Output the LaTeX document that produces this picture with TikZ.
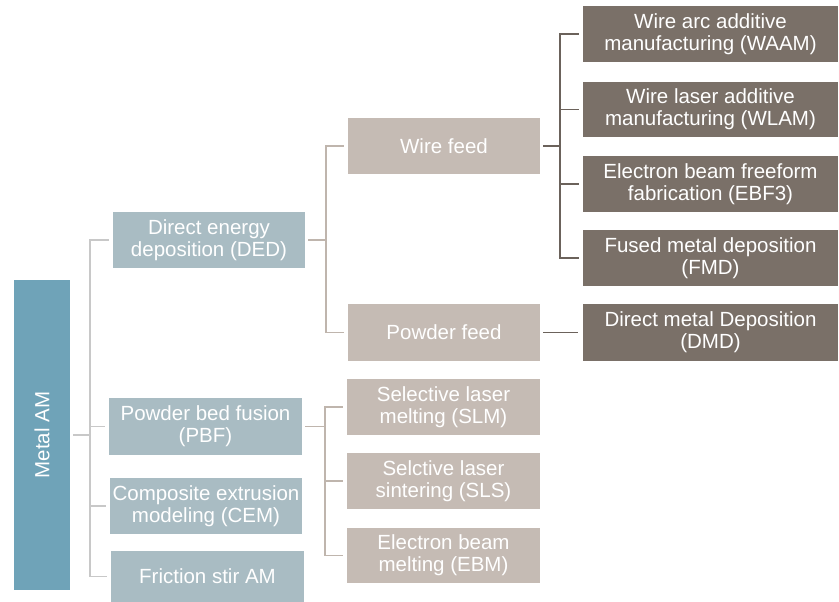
\documentclass[tikz,border=0pt]{standalone}
\usepackage{fontspec}
\setmainfont{Liberation Sans}
\definecolor{cmetal}{HTML}{6FA3B8}
\definecolor{cone}{HTML}{A9BCC3}
\definecolor{ctwo}{HTML}{C5BBB4}
\definecolor{cthree}{HTML}{7A7068}
\definecolor{lone}{HTML}{C8C8C8}
\definecolor{ltwo}{HTML}{BFB5AD}
\definecolor{lthree}{HTML}{6B625B}
\begin{document}
\begin{tikzpicture}[x=1pt,y=-1pt,
  box/.style={rectangle, inner sep=0pt, text=white, align=center,
    font=\fontsize{20.5}{22}\selectfont},
  lvz/.style={box, fill=cmetal},
  lvone/.style={box, fill=cone},
  lvtwo/.style={box, fill=ctwo},
  lvthree/.style={box, fill=cthree},
  cone/.style={draw=lone, line width=1.8pt},
  ctwo/.style={draw=ltwo, line width=1.8pt},
  cthree/.style={draw=lthree, line width=1.8pt}]
\useasboundingbox (0,0) rectangle (839,602);
% level 0
\node[lvz, minimum width=56pt, minimum height=310pt] (metal) at (42,435) {\rotatebox{90}{Metal AM}};
% level 1
\node[lvone, minimum width=192pt, minimum height=56pt] (ded) at (209,240) {Direct energy\\deposition (DED)};
\node[lvone, minimum width=193pt, minimum height=57pt] (pbf) at (205.5,426.5) {Powder bed fusion\\(PBF)};
\node[lvone, minimum width=192pt, minimum height=56pt] (cem) at (206,506) {Composite extrusion\\modeling (CEM)};
\node[lvone, minimum width=193pt, minimum height=51pt] (fsa) at (207.5,576.5) {Friction stir AM};
% level 2
\node[lvtwo, minimum width=192pt, minimum height=56pt] (wire) at (444,146) {Wire feed};
\node[lvtwo, minimum width=192pt, minimum height=57pt] (powder) at (444,332.5) {Powder feed};
\node[lvtwo, minimum width=193pt, minimum height=56pt] (slm) at (443.5,407) {Selective laser\\melting (SLM)};
\node[lvtwo, minimum width=193pt, minimum height=56pt] (sls) at (443.5,481) {Selctive laser\\sintering (SLS)};
\node[lvtwo, minimum width=193pt, minimum height=55pt] (ebm) at (443.5,555.5) {Electron beam\\melting (EBM)};
% level 3
\node[lvthree, minimum width=255pt, minimum height=56pt] (waam) at (710.5,34) {Wire arc additive\\manufacturing (WAAM)};
\node[lvthree, minimum width=255pt, minimum height=55pt] (wlam) at (710.5,109.5) {Wire laser additive\\manufacturing (WLAM)};
\node[lvthree, minimum width=255pt, minimum height=56pt] (ebf) at (710.5,184) {Electron beam freeform\\fabrication (EBF3)};
\node[lvthree, minimum width=255pt, minimum height=56pt] (fmd) at (710.5,258) {Fused metal deposition\\(FMD)};
\node[lvthree, minimum width=255pt, minimum height=57pt] (dmd) at (710.5,332) {Direct metal Deposition\\(DMD)};
% bus coordinates
\coordinate (bz) at (90,435);
\coordinate (bded) at (326,240);
\coordinate (bpbf) at (325,426.5);
\coordinate (bwire) at (560,146);
% connectors level 0 -> 1
\draw[cone, shorten <=3pt] (metal.east) -- (bz);
\foreach \n in {ded,pbf,cem,fsa}
  \draw[cone, shorten <=4pt] (\n.west) -| (bz);
% level 1 -> 2
\draw[ctwo, shorten <=3pt] (ded.east) -- (bded);
\foreach \n in {wire,powder}
  \draw[ctwo, shorten <=4pt] (\n.west) -| (bded);
\draw[ctwo, shorten <=3pt] (pbf.east) -- (bpbf);
\foreach \n in {slm,sls,ebm}
  \draw[ctwo, shorten <=4pt] (\n.west) -| (bpbf);
% level 2 -> 3
\draw[cthree, shorten <=3pt] (wire.east) -- (bwire);
\foreach \n in {waam,wlam,ebf,fmd}
  \draw[cthree, shorten <=4pt] (\n.west) -| (bwire);
\draw[cthree, shorten <=3pt, shorten >=5pt] (powder.east) -- (powder.east -| dmd.west);
\end{tikzpicture}
\end{document}
